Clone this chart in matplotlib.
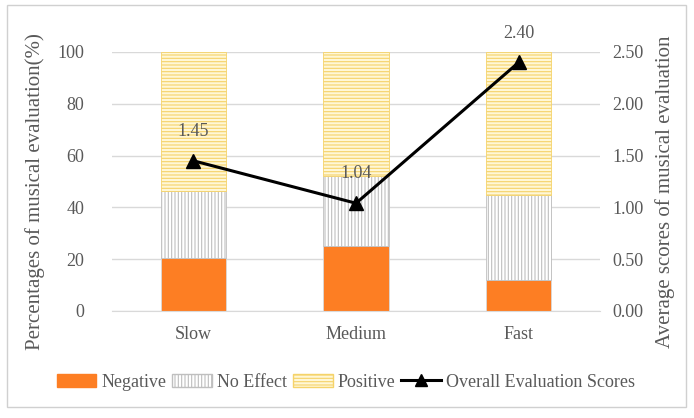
import numpy as np
import matplotlib.pyplot as plt
from matplotlib.lines import Line2D
from matplotlib.patches import Patch

plt.rcParams['font.family'] = ['Liberation Serif', 'DejaVu Serif']
plt.rcParams['hatch.linewidth'] = 0.8

# data
categories = ['Slow', 'Medium', 'Fast']
negative = [20.5, 25.2, 12.0]
no_effect = [25.9, 27.0, 32.8]
positive = [53.6, 47.8, 55.2]
scores = [1.45, 1.04, 2.40]

text_col = '#595959'
grid_col = '#d9d9d9'

fig = plt.figure(figsize=(6.94, 4.18), dpi=100)
# chart border like the office chart frame
fig.patches.append(plt.Rectangle((0.010, 0.026), 0.9785, 0.962, transform=fig.transFigure,
                                 fill=False, edgecolor='#d0d0d0', linewidth=1))
ax = fig.add_axes([0.1614, 0.256, 0.7032, 0.6196])
x = np.arange(len(categories))
w = 0.4

neg = np.array(negative)
noe = np.array(no_effect)
pos = np.array(positive)

ax.bar(x, neg, w, color='#fd7e23', edgecolor='#d9d9d9', linewidth=0.6, zorder=2)
plt.rcParams['hatch.color'] = '#a6a6a6'
ax.bar(x, noe, w, bottom=neg, facecolor='white', edgecolor='#bfbfbf', hatch='|||||',
       linewidth=0.6, zorder=2)
ax.bar(x, pos, w, bottom=neg + noe, facecolor='#fff7d6', edgecolor='#f5d36a', hatch='-----',
       linewidth=0.6, zorder=2)

ax.set_xlim(-0.5, 2.5)
ax.set_ylim(0, 100)
ax.set_yticks(range(0, 101, 20))
ax.grid(axis='y', color=grid_col, linewidth=1, zorder=0)
ax.set_xticks(x)
ax.set_xticklabels(categories)
ax.tick_params(axis='y', length=0, colors=text_col, labelsize=13, pad=20)
ax.tick_params(axis='x', length=0, colors=text_col, labelsize=13, pad=11)
for s in ['top', 'right', 'left']:
    ax.spines[s].set_visible(False)
ax.spines['bottom'].set_color(grid_col)
ax.set_ylabel('Percentages of musical evaluation(%)', color=text_col, fontsize=15)
ax.yaxis.set_label_coords(-0.137, 0.46)

ax2 = ax.twinx()
ax2.plot(x, scores, color='black', linewidth=2.2, marker='^', markersize=10, zorder=5)
ax2.set_ylim(0, 2.5)
ax2.set_yticks(np.arange(0, 2.51, 0.5))
ax2.set_yticklabels(['%.2f' % v for v in np.arange(0, 2.51, 0.5)])
ax2.tick_params(axis='y', length=0, colors=text_col, labelsize=13, pad=9)
for s in ['top', 'right', 'left', 'bottom']:
    ax2.spines[s].set_visible(False)
ax2.set_ylabel('Average scores of musical evaluation', color=text_col, fontsize=15)
ax2.yaxis.set_label_coords(1.1127, 0.46)

for xi, v in zip(x, scores):
    ax2.annotate('%.2f' % v, (xi, v), xytext=(0, 15), textcoords='offset points',
                 ha='center', va='bottom', fontsize=13, color=text_col)

handles = [Patch(facecolor='#fd7e23', edgecolor='#fd7e23'),
           Patch(facecolor='white', edgecolor='#bfbfbf', hatch='|||||'),
           Patch(facecolor='#fff7d6', edgecolor='#f5d36a', hatch='-----'),
           Line2D([0], [0], color='black', linewidth=2.2, marker='^', markersize=9)]
labels = ['Negative', 'No Effect', 'Positive', 'Overall Evaluation Scores']
fig.legend(handles, labels, loc='center', bbox_to_anchor=(0.4986, 0.086), ncol=4, frameon=False,
           fontsize=13, labelcolor=text_col, handlelength=2.2, handletextpad=0.3, columnspacing=0.3)

fig.savefig('out.png', dpi=100)
